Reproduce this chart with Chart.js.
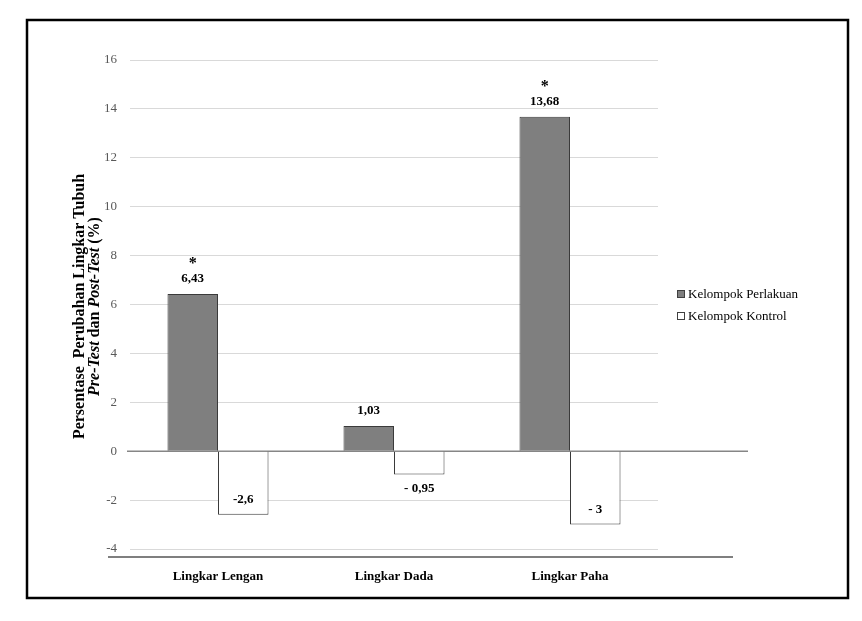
<!DOCTYPE html>
<html>
<head>
<meta charset="utf-8">
<script src="https://cdn.jsdelivr.net/npm/chart.js@4"></script>
<style>
  body { margin: 0; background: #fff; }
  canvas { display: block; }
</style>
</head>
<body>
<canvas id="chartLingkar" width="862" height="621"></canvas>
<script>
const categories = ['Lingkar Lengan', 'Lingkar Dada', 'Lingkar Paha'];
const seriesNames = ['Kelompok Perlakuan', 'Kelompok Kontrol'];
const perlakuanValues = [6.43, 1.03, 13.68];
const kontrolValues = [-2.6, -0.95, -3];
const perlakuanLabels = ['6,43', '1,03', '13,68'];
const kontrolLabels = ['-2,6', '- 0,95', '- 3'];
const significance = ['*', '', '*'];
const yTicks = { min: -4, max: 16, step: 2 };

const SERIF = "'Liberation Serif', 'Times New Roman', serif";

// labels, stars, legend, y title and the frame are drawn here
const decor = {
  id: 'decor',
  beforeDatasetsDraw(chart) {
    const { ctx, chartArea } = chart;
    const y0 = chart.scales.y.getPixelForValue(0);
    ctx.save();
    ctx.strokeStyle = '#868686';
    ctx.lineWidth = 1.5;
    ctx.beginPath();
    ctx.moveTo(chartArea.left - 3, y0);
    ctx.lineTo(chartArea.right + 90, y0);
    ctx.stroke();
    ctx.restore();
  },
  afterDatasetsDraw(chart) {
    const { ctx } = chart;
    ctx.save();
    ctx.fillStyle = '#000';
    ctx.textAlign = 'center';
    ctx.textBaseline = 'middle';

    chart.getDatasetMeta(0).data.forEach((el, i) => {
      ctx.font = 'bold 13px ' + SERIF;
      ctx.fillText(perlakuanLabels[i], el.x, el.y - 15);
      if (significance[i]) {
        ctx.font = 'bold 16px ' + SERIF;
        ctx.fillText(significance[i], el.x, el.y - 30);
      }
    });

    ctx.font = 'bold 13px ' + SERIF;
    chart.getDatasetMeta(1).data.forEach((el, i) => {
      const h = el.y - el.base;
      const y = h > 40 ? el.y - 15 : el.y + 14;
      ctx.fillText(kontrolLabels[i], el.x, y);
    });
    ctx.restore();
  },
  afterDraw(chart) {
    const { ctx, chartArea } = chart;
    ctx.save();

    // bottom axis line
    ctx.strokeStyle = '#000';
    ctx.lineWidth = 1.2;
    ctx.beginPath();
    ctx.moveTo(chartArea.left - 22, chartArea.bottom + 8);
    ctx.lineTo(chartArea.right + 75, chartArea.bottom + 8);
    ctx.stroke();

    // frame
    ctx.lineWidth = 2.5;
    ctx.strokeRect(27, 20, 821, 578);

    // y title, two lines with italic parts
    const midY = (chartArea.top + chartArea.bottom) / 2 + 2;
    ctx.fillStyle = '#000';
    ctx.textBaseline = 'middle';
    ctx.translate(80, midY);
    ctx.rotate(-Math.PI / 2);
    ctx.textAlign = 'center';
    ctx.font = 'bold 16px ' + SERIF;
    ctx.fillText('Persentase  Perubahan Lingkar Tubuh', 0, 0);

    const parts = [
      ['Pre-Test', true], [' dan ', false], ['Post-Test', true], [' (%)', false]
    ];
    ctx.textAlign = 'left';
    let total = 0;
    parts.forEach(p => {
      ctx.font = (p[1] ? 'italic ' : '') + 'bold 16px ' + SERIF;
      total += ctx.measureText(p[0]).width;
    });
    let x = -total / 2;
    parts.forEach(p => {
      ctx.font = (p[1] ? 'italic ' : '') + 'bold 16px ' + SERIF;
      ctx.fillText(p[0], x, 15);
      x += ctx.measureText(p[0]).width;
    });
    ctx.restore();

    // legend
    ctx.save();
    ctx.font = '13px ' + SERIF;
    ctx.textBaseline = 'middle';
    ctx.textAlign = 'left';
    chart.data.datasets.forEach((ds, i) => {
      const ly = 294 + i * 22;
      ctx.fillStyle = ds.backgroundColor;
      ctx.fillRect(677.5, ly - 3.5, 7, 7);
      ctx.strokeStyle = '#404040';
      ctx.lineWidth = 1;
      ctx.strokeRect(677.5, ly - 3.5, 7, 7);
      ctx.fillStyle = '#000';
      ctx.fillText(ds.label, 688, ly + 1);
    });
    ctx.restore();
  }
};

new Chart(document.getElementById('chartLingkar'), {
  type: 'bar',
  data: {
    labels: categories,
    datasets: [
      {
        label: seriesNames[0],
        data: perlakuanValues,
        backgroundColor: '#7f7f7f',
        borderColor: '#3a3a3a',
        borderWidth: 1
      },
      {
        label: seriesNames[1],
        data: kontrolValues,
        backgroundColor: '#ffffff',
        borderColor: '#3a3a3a',
        borderWidth: 1
      }
    ]
  },
  options: {
    responsive: false,
    animation: false,
    layout: { padding: { left: 0, right: 204, top: 60, bottom: 0 } },
    datasets: { bar: { categoryPercentage: 0.574, barPercentage: 1 } },
    plugins: {
      legend: { display: false },
      tooltip: { enabled: false }
    },
    scales: {
      x: {
        grid: { display: false },
        border: { display: false },
        ticks: {
          color: '#000',
          padding: 12,
          font: { family: SERIF, size: 13, weight: 'bold' }
        },
        afterFit(scale) { scale.height = 72; }
      },
      y: {
        min: yTicks.min,
        max: yTicks.max,
        border: { display: false },
        grid: {
          drawTicks: false,
          color: ctx => ctx.tick && ctx.tick.value === 0 ? 'rgba(0,0,0,0)' : '#d9d9d9',
          lineWidth: 1
        },
        ticks: {
          stepSize: yTicks.step,
          color: '#595959',
          padding: 13,
          font: { family: SERIF, size: 13 }
        },
        afterFit(scale) { scale.width = 130; }
      }
    }
  },
  plugins: [decor]
});
</script>
</body>
</html>
